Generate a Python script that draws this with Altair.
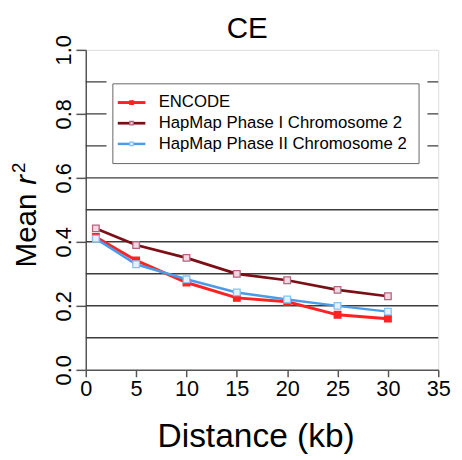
import altair as alt
import pandas as pd

# ---------------- data ----------------
distance = [1, 5, 10, 15, 20, 25, 30]
series_names = ["ENCODE", "HapMap Phase I Chromosome 2", "HapMap Phase II Chromosome 2"]
encode_r2 = [0.415, 0.342, 0.273, 0.225, 0.213, 0.172, 0.160]
hapmap1_r2 = [0.442, 0.390, 0.350, 0.300, 0.280, 0.250, 0.230]
hapmap2_r2 = [0.410, 0.330, 0.283, 0.242, 0.220, 0.200, 0.182]
grid_values = [0.1, 0.2, 0.3, 0.4, 0.5, 0.6, 0.7, 0.8, 0.9]
y_ticks = [0.0, 0.2, 0.4, 0.6, 0.8, 1.0]
x_ticks = [0, 5, 10, 15, 20, 25, 30, 35]
chart_title = "CE"

# ---------------- styles ----------------
line_colors = ["#FF2222", "#7A1016", "#4A9CE6"]
line_widths = [3.0, 2.5, 2.5]
marker_fill = ["#FF2222", "#F3D8E2", "#E4F2FF"]
marker_stroke = ["#FF2222", "#B8627F", "#86C2F0"]
FONT = "Liberation Sans"
W, H = 358, 325
AX = "#555555"

rows = []
for name, vals in zip(series_names, [encode_r2, hapmap1_r2, hapmap2_r2]):
    for d, v in zip(distance, vals):
        rows.append({"distance": d, "r2": v, "series": name, "marker": name})
df = pd.DataFrame(rows)
grid_df = pd.DataFrame({"g": grid_values})
one = pd.DataFrame({"k": [0]})

xscale = alt.Scale(domain=[0, 35], nice=False, zero=False)
yscale = alt.Scale(domain=[0, 1], nice=False, zero=False)

x_axis = alt.Axis(values=x_ticks, format="d", title="Distance (kb)", titleFontSize=34,
                  titleFont=FONT, titleFontWeight="normal", titleX=172.5, titleY=78,
                  titleBaseline="alphabetic", titleColor="black",
                  labelFontSize=22, labelFont=FONT, labelColor="black", tickSize=7,
                  labelPadding=2, grid=False, domainColor=AX, tickColor=AX,
                  domainWidth=1.5, tickWidth=1.5, labelFlush=False, labelOverlap=False)
y_axis = alt.Axis(values=y_ticks, format=".1f", title=None, labelAngle=270,
                  labelAlign="center", labelBaseline="alphabetic", labelPadding=6,
                  labelFontSize=22, labelFont=FONT, labelColor="black", tickSize=10,
                  grid=False, domainColor=AX, tickColor=AX, domainWidth=1.5,
                  tickWidth=1.5, labelFlush=False, labelOverlap=False)

grid = alt.Chart(grid_df).mark_rule(color="#3C3C3C", strokeWidth=1.5).encode(
    y=alt.Y("g:Q", scale=yscale, axis=y_axis),
    x=alt.value(0), x2=alt.value(W),
)

white_box = alt.Chart(one).mark_rect(color="white").encode(
    x=alt.value(21), x2=alt.value(347), y=alt.value(29), y2=alt.value(116)
)

lines = alt.Chart(df).mark_line().encode(
    x=alt.X("distance:Q", scale=xscale, axis=x_axis),
    y=alt.Y("r2:Q", scale=yscale),
    color=alt.Color("series:N", scale=alt.Scale(domain=series_names, range=line_colors),
                    sort=series_names,
                    legend=alt.Legend(title=None, orient="none", legendX=27, legendY=34,
                                      symbolType="M-2.8,0H2.8", symbolSize=100,
                                      symbolStrokeWidth=2.6, labelFont=FONT,
                                      labelFontSize=17, labelColor="black",
                                      labelOffset=19, padding=11, rowPadding=3,
                                      fillColor="white", strokeColor="#666666",
                                      labelLimit=400)),
    strokeWidth=alt.StrokeWidth("series:N", scale=alt.Scale(domain=series_names, range=line_widths),
                                legend=None),
)

points = alt.Chart(df).mark_point(shape="square", size=45, filled=True, strokeWidth=1.3,
                                  opacity=1).encode(
    x=alt.X("distance:Q", scale=xscale),
    y=alt.Y("r2:Q", scale=yscale),
    fill=alt.Fill("marker:N", scale=alt.Scale(domain=series_names, range=marker_fill),
                  sort=series_names,
                  legend=alt.Legend(title=None, orient="none", legendX=27, legendY=34,
                                    symbolType="M-0.35,-0.35H0.35V0.35H-0.35Z",
                                    symbolSize=100, symbolStrokeWidth=1.3,
                                    labelFont=FONT, labelFontSize=17, labelOpacity=0,
                                    labelOffset=19, padding=11, rowPadding=3,
                                    labelLimit=400)),
    stroke=alt.Stroke("marker:N", scale=alt.Scale(domain=series_names, range=marker_stroke),
                      sort=series_names, legend=None),
)

title_text = alt.Chart(one).mark_text(text=chart_title, align="center", baseline="alphabetic",
                                      fontSize=30, font=FONT, color="black").encode(
    x=alt.value(164), y=alt.value(-12))

ytitle_mean = alt.Chart(one).mark_text(text="Mean", angle=270, align="left",
                                       baseline="alphabetic", fontSize=30, font=FONT,
                                       color="black").encode(
    x=alt.value(-51), y=alt.value(221))
ytitle_r = alt.Chart(one).mark_text(text="r", angle=270, align="left",
                                    baseline="alphabetic", fontSize=30, font=FONT,
                                    fontStyle="italic", color="black").encode(
    x=alt.value(-51), y=alt.value(137))
ytitle_2 = alt.Chart(one).mark_text(text="2", angle=270, align="left",
                                    baseline="alphabetic", fontSize=19, font=FONT,
                                    color="black").encode(
    x=alt.value(-62), y=alt.value(125))

chart = alt.layer(grid, white_box, lines, points, title_text,
                  ytitle_mean, ytitle_r, ytitle_2).properties(
    width=W, height=H,
    autosize=alt.AutoSizeParams(type="none"),
    padding={"left": 79, "top": 39, "right": 16, "bottom": 86},
).resolve_scale(fill="independent", stroke="independent").configure_view(
    stroke=AX, strokeWidth=1.5
).configure(background="white")

chart.save("out.html", embed_options={"renderer": "svg", "actions": False})
